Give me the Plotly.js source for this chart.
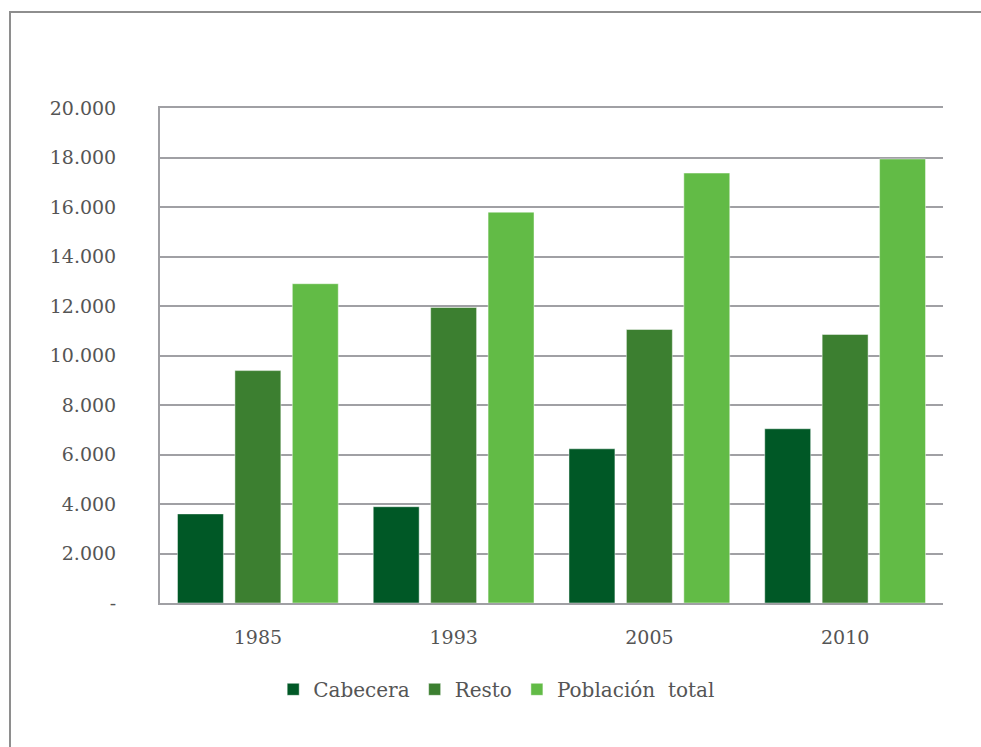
<!DOCTYPE html>
<html>
<head>
<meta charset="utf-8">
<script src="https://cdn.plot.ly/plotly-3.0.1.min.js"></script>
<style>
  html, body { margin: 0; padding: 0; background: #ffffff; overflow: hidden; }
  #frame { position: absolute; left: 9px; top: 11px; width: 1200px; height: 1200px;
           border-left: 2px solid #8e8e8e; border-top: 2px solid #8e8e8e; }
  #chart { position: absolute; left: 0; top: 0; width: 981px; height: 747px; }
</style>
</head>
<body>
<div id="frame"></div>
<div id="chart"></div>
<script>
const years = ['1985', '1993', '2005', '2010'];
const cabecera = [3600, 3890, 6230, 7040];
const resto = [9390, 11940, 11050, 10850];
const poblacionTotal = [12900, 15790, 17370, 17940];
const seriesNames = ['Cabecera', 'Resto', 'Población  total'];
const yTickVals = [0, 2000, 4000, 6000, 8000, 10000, 12000, 14000, 16000, 18000, 20000];
const yTickText = ['-', '2.000', '4.000', '6.000', '8.000', '10.000', '12.000', '14.000', '16.000', '18.000', '20.000'];

const colors = ['#005826', '#3c7f30', '#62bb46'];
const values = [cabecera, resto, poblacionTotal];
const font = { family: 'DejaVu Serif, Liberation Serif, serif', size: 19, color: '#555555' };
const legendFont = { family: 'DejaVu Serif, Liberation Serif, serif', size: 20, color: '#555555' };

const data = values.map((v, i) => ({
  type: 'bar',
  name: seriesNames[i],
  x: years,
  y: v,
  marker: { color: colors[i], line: { color: 'rgba(255,255,255,0.45)', width: 1 } },
  hoverinfo: 'x+y+name'
}));

const layout = {
  width: 981,
  height: 747,
  margin: { l: 160, r: 38, t: 108, b: 144, pad: 0 },
  paper_bgcolor: 'rgba(0,0,0,0)',
  plot_bgcolor: 'rgba(0,0,0,0)',
  font: font,
  barmode: 'group',
  bargap: 0.12,
  bargroupgap: 0.2,
  showlegend: true,
  legend: {
    orientation: 'h',
    x: 0.43, xanchor: 'center',
    y: -0.135, yanchor: 'top',
    font: legendFont,
    itemwidth: 30,
    traceorder: 'normal'
  },
  xaxis: {
    type: 'category',
    showline: true, linecolor: '#a0a0a4', linewidth: 2,
    mirror: true,
    showgrid: false, ticks: '',
    tickfont: font,
    ticklabelstandoff: 16
  },
  yaxis: {
    range: [0, 20000],
    tickvals: yTickVals,
    ticktext: yTickText,
    showline: true, linecolor: '#a0a0a4', linewidth: 2,
    showgrid: true, gridcolor: '#a0a0a4', gridwidth: 2,
    zeroline: false,
    ticks: '',
    tickfont: font,
    ticklabelstandoff: 38
  }
};

Plotly.newPlot('chart', data, layout, { displayModeBar: false, staticPlot: true });
</script>
</body>
</html>
